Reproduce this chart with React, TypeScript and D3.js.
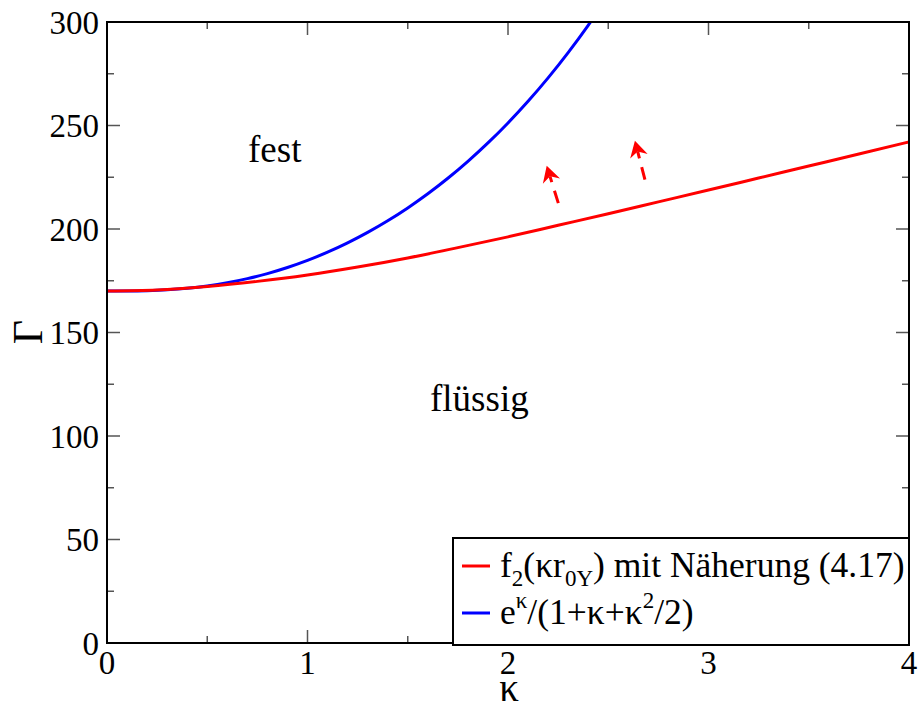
import React from "react";
import * as d3 from "d3";

const kappaBlue = [0, 0.1, 0.2, 0.3, 0.4, 0.5, 0.6, 0.7, 0.8, 0.9, 1.0, 1.1, 1.2, 1.3, 1.4, 1.5, 1.6, 1.7, 1.8, 1.9, 2.0, 2.1, 2.2, 2.3, 2.4, 2.45];
const gammaBlue = [170, 170.03, 170.2, 170.61, 171.36, 172.48, 174.02, 176.01, 178.46, 181.4, 184.84, 188.8, 193.29, 198.34, 203.96, 210.18, 217.01, 224.5, 232.68, 241.57, 251.23, 261.69, 273.0, 285.22, 298.4, 305.37];

const kappaRed = [0, 0.25, 0.5, 0.75, 1, 1.25, 1.5, 1.75, 2, 2.25, 2.5, 2.75, 3, 3.25, 3.5, 3.75, 4];
const gammaRed = [170, 170.5, 172.2, 174.7, 177.8, 181.6, 186, 191, 196.2, 201.8, 207.4, 213.1, 218.8, 224.6, 230.4, 236.2, 242.1];

const arrowTailK = [2.251, 2.683];
const arrowTailG = [212.5, 223.8];
const arrowTipK = [2.193, 2.633];
const arrowTipG = [230.5, 242.6];

const xMajor = [0, 1, 2, 3, 4];
const xMinor = [0.5, 1.5, 2.5, 3.5];
const yMajor = [0, 50, 100, 150, 200, 250, 300];
const yMinor = [25, 75, 125, 175, 225, 275];

const W = 922, H = 709;
const L = 107, R = 909, T = 22, B = 643;
const FONT = "'Liberation Serif', 'Times New Roman', serif";

export default function App() {
  const x = d3.scaleLinear().domain([0, 4]).range([L, R]);
  const y = d3.scaleLinear().domain([0, 300]).range([B, T]);
  const line = d3.line<[number, number]>().x(d => x(d[0])).y(d => y(d[1])).curve(d3.curveMonotoneX);
  const blue = line(kappaBlue.map((k, i) => [k, gammaBlue[i]] as [number, number])) || "";
  const red = line(kappaRed.map((k, i) => [k, gammaRed[i]] as [number, number])) || "";

  const arrows = arrowTailK.map((_, i) => {
    const x1 = x(arrowTailK[i]), y1 = y(arrowTailG[i]);
    const x2 = x(arrowTipK[i]), y2 = y(arrowTipG[i]);
    const dx = x2 - x1, dy = y2 - y1;
    const len = Math.hypot(dx, dy);
    const ux = dx / len, uy = dy / len;
    const px = -uy, py = ux;
    const hl = 16, hw = 9, notch = 5;
    const bx = x2 - ux * hl, by = y2 - uy * hl;
    const nx = x2 - ux * (hl - notch), ny = y2 - uy * (hl - notch);
    const head = `M${x2},${y2} L${bx + px * hw},${by + py * hw} L${nx},${ny} L${bx - px * hw},${by - py * hw} Z`;
    return { x1, y1, sx: nx, sy: ny, head };
  });

  const majorLen = 13, minorLen = 7;
  const tickStroke = "#555";

  return (
    <svg width={W} height={H} style={{ position: "absolute", left: 0, top: 0, background: "#fff" }} fontFamily={FONT}>
      <rect x={0} y={0} width={W} height={H} fill="#fff" />
      <defs>
        <clipPath id="plotclip">
          <rect x={L} y={T} width={R - L} height={B - T} />
        </clipPath>
      </defs>
      {xMajor.map(v => (
        <g key={"xM" + v}>
          <line x1={x(v)} x2={x(v)} y1={B} y2={B - majorLen} stroke={tickStroke} strokeWidth={1.5} />
          <line x1={x(v)} x2={x(v)} y1={T} y2={T + majorLen} stroke={tickStroke} strokeWidth={1.5} />
        </g>
      ))}
      {xMinor.map(v => (
        <g key={"xm" + v}>
          <line x1={x(v)} x2={x(v)} y1={B} y2={B - minorLen} stroke={tickStroke} strokeWidth={1.5} />
          <line x1={x(v)} x2={x(v)} y1={T} y2={T + minorLen} stroke={tickStroke} strokeWidth={1.5} />
        </g>
      ))}
      {yMajor.map(v => (
        <g key={"yM" + v}>
          <line x1={L} x2={L + majorLen} y1={y(v)} y2={y(v)} stroke={tickStroke} strokeWidth={1.5} />
          <line x1={R} x2={R - majorLen} y1={y(v)} y2={y(v)} stroke={tickStroke} strokeWidth={1.5} />
        </g>
      ))}
      {yMinor.map(v => (
        <g key={"ym" + v}>
          <line x1={L} x2={L + minorLen} y1={y(v)} y2={y(v)} stroke={tickStroke} strokeWidth={1.5} />
          <line x1={R} x2={R - minorLen} y1={y(v)} y2={y(v)} stroke={tickStroke} strokeWidth={1.5} />
        </g>
      ))}
      <g clipPath="url(#plotclip)">
        <path d={blue} fill="none" stroke="#0000ff" strokeWidth={3} />
        <path d={red} fill="none" stroke="#ff0000" strokeWidth={3} />
      </g>
      {arrows.map((a, i) => (
        <g key={"arr" + i}>
          <line x1={a.x1} y1={a.y1} x2={a.sx} y2={a.sy} stroke="#ff0000" strokeWidth={3} strokeDasharray="13 9" />
          <path d={a.head} fill="#ff0000" />
        </g>
      ))}
      <rect x={L} y={T} width={R - L} height={B - T} fill="none" stroke="#000" strokeWidth={2} />
      {xMajor.map(v => (
        <text key={"xl" + v} x={x(v)} y={674} fontSize={33} textAnchor="middle" fill="#000">{v}</text>
      ))}
      {yMajor.map(v => (
        <text key={"yl" + v} x={99} y={y(v)} dy="0.35em" fontSize={33} textAnchor="end" fill="#000">{v}</text>
      ))}
      <text x={509} y={701} fontSize={39} textAnchor="middle" fill="#000">κ</text>
      <text transform={`translate(42,332) rotate(-90)`} fontSize={42} textAnchor="middle" fill="#000">Γ</text>
      <text x={248} y={162} fontSize={37} fill="#000">fest</text>
      <text x={430} y={411} fontSize={37} fill="#000">flüssig</text>
      <rect x={453} y={538} width={456} height={107} fill="#fff" stroke="#000" strokeWidth={2} />
      <line x1={462} x2={490} y1={566} y2={566} stroke="#ff0000" strokeWidth={3} />
      <text x={500} y={577} fontSize={35.5} fill="#000">
        <tspan>f</tspan>
        <tspan fontSize={23} dy={9}>2</tspan>
        <tspan dy={-9}>(κr</tspan>
        <tspan fontSize={23} dy={9}>0Y</tspan>
        <tspan dy={-9}>) mit Näherung (4.17)</tspan>
      </text>
      <line x1={462} x2={490} y1={613} y2={613} stroke="#0000ff" strokeWidth={3} />
      <text x={500} y={624} fontSize={35.5} fill="#000">
        <tspan>e</tspan>
        <tspan fontSize={23} dy={-16}>κ</tspan>
        <tspan dy={16}>/(1+κ+κ</tspan>
        <tspan fontSize={23} dy={-16}>2</tspan>
        <tspan dy={16}>/2)</tspan>
      </text>
    </svg>
  );
}
